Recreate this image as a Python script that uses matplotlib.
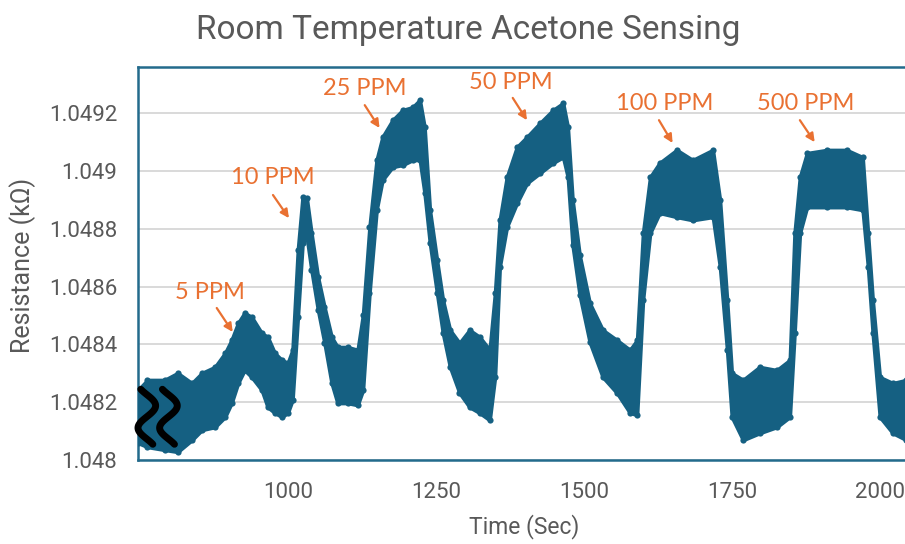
import numpy as np
import matplotlib
matplotlib.use("Agg")
import matplotlib.pyplot as plt

# ---------------- data ----------------
time_sec = [747, 763, 792, 814, 838, 855, 877, 894, 905, 916, 927, 939, 956, 966, 978, 990,
            1000, 1008, 1017, 1025, 1032, 1040, 1051, 1062, 1074, 1084, 1101, 1118, 1127,
            1138, 1150, 1160, 1177, 1194, 1211, 1223, 1231, 1240, 1252, 1262, 1274, 1290,
            1307, 1324, 1341, 1350, 1358, 1370, 1387, 1404, 1426, 1448, 1465, 1473, 1481,
            1493, 1510, 1532, 1556, 1578, 1590, 1600, 1612, 1628, 1657, 1684, 1718, 1730,
            1742, 1750, 1769, 1797, 1826, 1848, 1856, 1865, 1877, 1911, 1944, 1971, 1980,
            1988, 2000, 2022, 2045]

resist_high = [1.048242, 1.048277, 1.048277, 1.048301, 1.048266, 1.048301, 1.048322, 1.048370,
               1.048415, 1.048474, 1.048509, 1.048495, 1.048439, 1.048426, 1.048370, 1.048346,
               1.048336, 1.048381, 1.048727, 1.048910, 1.048907, 1.048785, 1.048633, 1.048529,
               1.048426, 1.048391, 1.048391, 1.048381, 1.048502, 1.048806, 1.049038, 1.049118,
               1.049176, 1.049211, 1.049221, 1.049246, 1.049152, 1.048865, 1.048692, 1.048554,
               1.048450, 1.048405, 1.048450, 1.048426, 1.048381, 1.048578, 1.048830, 1.048979,
               1.049083, 1.049118, 1.049166, 1.049211, 1.049235, 1.049152, 1.048900, 1.048709,
               1.048543, 1.048450, 1.048415, 1.048381, 1.048415, 1.048785, 1.048979, 1.049028,
               1.049073, 1.049038, 1.049073, 1.048900, 1.048554, 1.048301, 1.048277, 1.048322,
               1.048311, 1.048346, 1.048785, 1.048979, 1.049062, 1.049073, 1.049073, 1.049048,
               1.048785, 1.048554, 1.048287, 1.048266, 1.048277]

resist_low = [1.048059, 1.048045, 1.048035, 1.048028, 1.048069, 1.048104, 1.048114, 1.048149,
              1.048197, 1.048266, 1.048311, 1.048287, 1.048242, 1.048183, 1.048163, 1.048149,
              1.048163, 1.048208, 1.048495, 1.048751, 1.048772, 1.048657, 1.048519, 1.048405,
              1.048266, 1.048197, 1.048197, 1.048190, 1.048242, 1.048578, 1.048865, 1.048969,
              1.049014, 1.049021, 1.049038, 1.049038, 1.048924, 1.048751, 1.048578, 1.048439,
              1.048322, 1.048232, 1.048183, 1.048163, 1.048138, 1.048287, 1.048668, 1.048806,
              1.048889, 1.048958, 1.048993, 1.049028, 1.049048, 1.048979, 1.048744, 1.048571,
              1.048408, 1.048287, 1.048232, 1.048163, 1.048156, 1.048554, 1.048785, 1.048855,
              1.048841, 1.048830, 1.048841, 1.048668, 1.048381, 1.048149, 1.048069, 1.048093,
              1.048114, 1.048149, 1.048439, 1.048785, 1.048875, 1.048875, 1.048875, 1.048865,
              1.048668, 1.048439, 1.048149, 1.048093, 1.048069]

x_ticks = [1000, 1250, 1500, 1750, 2000]
y_ticks = [1.048, 1.0482, 1.0484, 1.0486, 1.0488, 1.049, 1.0492]
y_tick_labels = ["1.048", "1.0482", "1.0484", "1.0486", "1.0488", "1.049", "1.0492"]

ann_labels = ["5 PPM", "10 PPM", "25 PPM", "50 PPM", "100 PPM", "500 PPM"]
ann_text_pos = [(868, 1.048581), (975, 1.048976), (1130, 1.049287),
                (1377, 1.049308), (1637, 1.049232), (1875, 1.049232)]
ann_tail_pos = [(880, 1.048526), (975, 1.048917), (1130, 1.049228),
                (1380, 1.049253), (1627, 1.049176), (1865, 1.049176)]
ann_tip_pos = [(907, 1.048443), (1002, 1.048837), (1155, 1.049149),
               (1404, 1.049176), (1650, 1.049097), (1890, 1.049100)]

# ---------------- styling ----------------
DATA_C = "#156082"
FRAME_C = "#236b8c"
TEXT_C = "#595959"
ORANGE = "#E97132"
GRID_C = "#d9d9d9"

plt.rcParams["font.family"] = ["Roboto", "DejaVu Sans"]

fig = plt.figure(figsize=(9.05, 5.44), dpi=100)
ax = fig.add_axes([138 / 905, 84 / 544, 801 / 905, 393 / 544])

t = np.array(time_sec)
hi = np.array(resist_high)
lo = np.array(resist_low)

ax.fill_between(t, lo, hi, color=DATA_C, lw=2.6, edgecolor=DATA_C, zorder=3)
ax.scatter(t, hi, s=20, color=DATA_C, zorder=4, linewidths=0)
ax.scatter(t, lo, s=20, color=DATA_C, zorder=4, linewidths=0)

ax.set_xlim(747, 2100)
ax.set_ylim(1.048, 1.04936)
ax.set_xticks(x_ticks)
ax.set_xticklabels([str(v) for v in x_ticks])
ax.set_yticks(y_ticks)
ax.set_yticklabels(y_tick_labels)
ax.tick_params(axis="both", length=0, labelsize=16, colors=TEXT_C)
ax.tick_params(axis="y", pad=15)
ax.tick_params(axis="x", pad=16)
ax.yaxis.grid(True, color=GRID_C, lw=1.4, zorder=0)
ax.set_axisbelow(True)
for sp in ax.spines.values():
    sp.set_color(FRAME_C)
    sp.set_linewidth(1.8)

fig.text(468 / 905, 1 - 30 / 544, "Room Temperature Acetone Sensing",
         ha="center", va="center", fontsize=24, color=TEXT_C)
fig.text(23 / 905, 1 - 265 / 544, "Resistance (kΩ)", rotation=90,
         ha="center", va="center", fontsize=18, color=TEXT_C)
fig.text(524 / 905, 1 - 527 / 544, "Time (Sec)", ha="center", va="center",
         fontsize=16.5, color=TEXT_C)

for lab, tp, tail, tip in zip(ann_labels, ann_text_pos, ann_tail_pos, ann_tip_pos):
    ax.text(tp[0], tp[1], lab, ha="center", va="center", fontsize=17,
            color=ORANGE, family=["Lato", "DejaVu Sans"], zorder=6)
    ax.annotate("", xy=tip, xytext=tail,
                arrowprops=dict(arrowstyle="-|>,head_length=0.5,head_width=0.25",
                                color=ORANGE, lw=1.6, shrinkA=0, shrinkB=0), zorder=6)

# axis-break squiggles
s = np.linspace(-0.12, 1.12, 60)
for xc in (0.011, 0.038):
    ax.plot(xc + 0.011 * np.sin(2 * np.pi * s), 0.18 - 0.14 * (s + 0.12) / 1.24,
            transform=ax.transAxes, color="black", lw=5, solid_capstyle="round",
            clip_on=False, zorder=7)

fig.savefig("out.png", dpi=100)
